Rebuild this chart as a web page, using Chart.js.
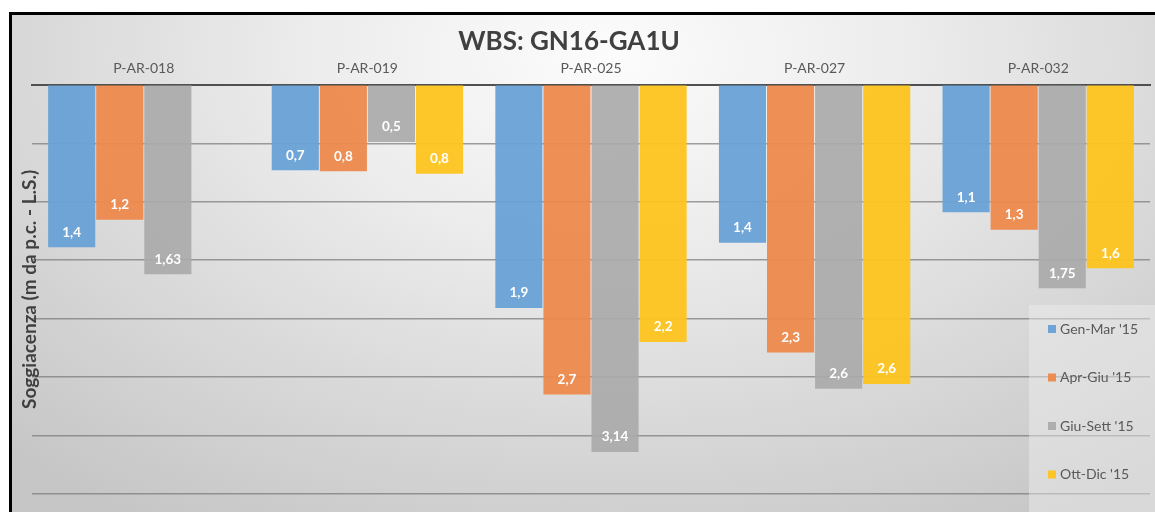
<!DOCTYPE html>
<html>
<head>
<meta charset="utf-8">
<script src="https://cdn.jsdelivr.net/npm/chart.js@4.4.1/dist/chart.umd.min.js"></script>
<style>
  body { margin: 0; background: #fff; width: 1155px; height: 512px; overflow: hidden; }
  #frame {
    position: absolute; left: 9px; top: 12px; width: 1146px; height: 500px;
    border-top: 3px solid #000; border-left: 3px solid #000;
    background: radial-gradient(ellipse 75% 110% at 52% 8%, #fcfcfc 0%, #ececec 35%, #dadada 65%, #c6c6c6 100%);
  }
  #wrap { position: absolute; left: 0; top: 0; width: 1143px; height: 497px; }
</style>
</head>
<body>
<div id="frame"><div id="wrap"><canvas id="myChart"></canvas></div></div>
<script>
// wells and quarterly readings (m below ground level), bar lengths
let wells = ['P-AR-018', 'P-AR-019', 'P-AR-025', 'P-AR-027', 'P-AR-032'];
let seriesNames = ["Gen-Mar '15", "Apr-Giu '15", "Giu-Sett '15", "Ott-Dic '15"];
let genMar  = [1.39, 0.73, 1.91, 1.35, 1.09];
let aprGiu  = [1.155, 0.74, 2.65, 2.29, 1.24];
let giuSett = [1.62, 0.49, 3.14, 2.6, 1.74];
let ottDic  = [null, 0.76, 2.2, 2.56, 1.57];

// the labels printed on the bars (rounded in the original)
let genMarText  = ['1,4', '0,7', '1,9', '1,4', '1,1'];
let aprGiuText  = ['1,2', '0,8', '2,7', '2,3', '1,3'];
let giuSettText = ['1,63', '0,5', '3,14', '2,6', '1,75'];
let ottDicText  = ['', '0,8', '2,2', '2,6', '1,6'];

let colors = ['rgba(104,161,214,0.95)', 'rgba(237,137,76,0.95)', 'rgba(170,170,170,0.92)', 'rgba(254,196,30,0.95)'];

const chartTitle = 'WBS: GN16-GA1U';
const textGray = '#595959';
const font = "Lato, 'Open Sans', sans-serif";
const barTexts = [genMarText, aprGiuText, giuSettText, ottDicText];

// title sits a bit left of the centre, like in the original
const titlePlugin =
{
    id: 'titlePlugin',
    afterDraw(chart)
    {
        const ctx = chart.ctx;
        ctx.save();
        ctx.font = 'bold 26px ' + font;
        ctx.fillStyle = '#404040';
        ctx.textAlign = 'center';
        ctx.textBaseline = 'middle';
        ctx.fillText(chartTitle, 557, 27);
        ctx.restore();
    }
};

// white value labels near the end of each bar
const valueLabels =
{
    id: 'valueLabels',
    afterDatasetsDraw(chart)
    {
        const ctx = chart.ctx;
        ctx.save();
        ctx.font = 'bold 13.5px ' + font;
        ctx.fillStyle = '#ffffff';
        ctx.textAlign = 'center';
        ctx.textBaseline = 'middle';
        chart.data.datasets.forEach(function(ds, i)
        {
            chart.getDatasetMeta(i).data.forEach(function(bar, j)
            {
                if (ds.data[j] === null) return;
                ctx.fillText(barTexts[i][j], bar.x, bar.y - 15);
            });
        });
        ctx.restore();
    }
};

// legend drawn in the lower right corner over the plot
const cornerLegend =
{
    id: 'cornerLegend',
    afterDraw(chart)
    {
        const ctx = chart.ctx;
        const boxX = 1017, boxY = 290;
        ctx.save();
        ctx.fillStyle = 'rgba(240,240,240,0.45)';
        ctx.fillRect(boxX, boxY, chart.width - boxX, chart.height - boxY);
        ctx.font = '14px ' + font;
        ctx.textBaseline = 'middle';
        chart.data.datasets.forEach(function(ds, i)
        {
            const y = 314 + i * 48.5;
            ctx.fillStyle = ds.backgroundColor;
            ctx.fillRect(1036, y - 4, 8, 8);
            ctx.fillStyle = textGray;
            ctx.fillText(ds.label, 1048, y);
        });
        ctx.restore();
    }
};

const datasets = [genMar, aprGiu, giuSett, ottDic].map(function(values, i)
{
    return {
        label: seriesNames[i],
        data: values,
        backgroundColor: colors[i],
        borderWidth: 0,
        categoryPercentage: 0.86,
        barPercentage: 0.98
    };
});

const config =
{
    type: 'bar',
    data: { labels: wells, datasets: datasets },
    plugins: [titlePlugin, valueLabels, cornerLegend],
    options:
    {
        responsive: true,
        maintainAspectRatio: false,
        animation: false,
        layout: { padding: { left: 2, right: 5, top: 37, bottom: 18 } },
        plugins:
        {
            legend: { display: false },
            tooltip: { enabled: false }
        },
        scales:
        {
            x:
            {
                position: 'top',
                grid: { display: false, drawTicks: false },
                border: { display: true, color: '#505050', width: 2 },
                ticks: { color: textGray, font: { family: font, size: 14 }, padding: 8 }
            },
            y:
            {
                reverse: true,
                min: 0,
                max: 3.5,
                afterFit(scale) { scale.width = 18; },
                ticks: { display: false, stepSize: 0.5 },
                grid: { color: 'rgba(120,120,120,0.7)', lineWidth: 1.5, drawTicks: false },
                border: { display: false },
                title:
                {
                    display: true,
                    text: 'Soggiacenza (m da p.c. - L.S.)',
                    color: '#404040',
                    font: { family: font, size: 19, weight: 'bold' },
                    padding: { top: 4, bottom: 0 }
                }
            }
        }
    }
};

new Chart(document.getElementById('myChart'), config);
</script>
</body>
</html>
